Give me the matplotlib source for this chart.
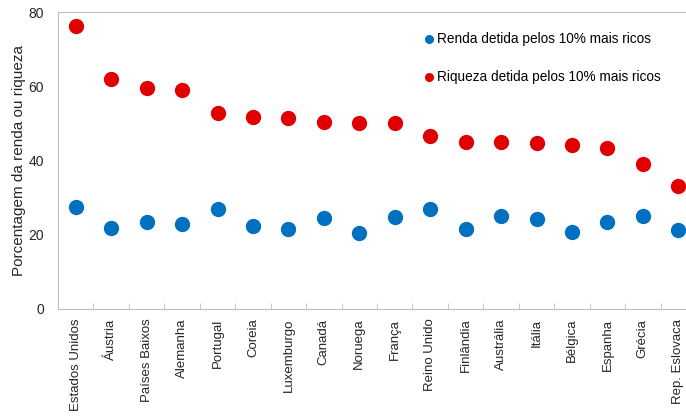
import matplotlib
matplotlib.use('Agg')
import matplotlib.pyplot as plt
import numpy as np

plt.rcParams['font.family'] = ['Liberation Sans', 'DejaVu Sans']

# ==========================================
# DATA
# ==========================================
countries = ['Estados Unidos', 'Áustria', 'Países Baixos', 'Alemanha', 'Portugal',
             'Coreia', 'Luxemburgo', 'Canadá', 'Noruega', 'França', 'Reino Unido',
             'Finlândia', 'Austrália', 'Itália', 'Bélgica', 'Espanha', 'Grécia',
             'Rep. Eslovaca']
renda = [27.6, 21.7, 23.3, 22.9, 26.9, 22.4, 21.5, 24.4, 20.4, 24.9, 27.0,
         21.5, 25.1, 24.2, 20.8, 23.5, 25.1, 21.3]
riqueza = [76.3, 61.9, 59.6, 59.0, 52.9, 51.6, 51.4, 50.3, 50.0, 50.0, 46.6,
           45.1, 45.1, 44.6, 44.2, 43.5, 39.0, 33.1]

label_renda = 'Renda detida pelos 10% mais ricos'
label_riqueza = 'Riqueza detida pelos 10% mais ricos'

BLUE = '#0070C0'
RED = '#E00000'
GREY = '#BFBFBF'
TXT = '#262626'

# ==========================================
# FIGURE
# ==========================================
fig = plt.figure(figsize=(6.86, 4.16), dpi=100)
# axes runs past the right edge (the original chart is cropped there)
ax = fig.add_axes([58 / 686, 107 / 416, 638 / 686, 297 / 416])

x = np.arange(len(countries))
ax.plot(x, renda, 'o', color=BLUE, markersize=10, label=label_renda)
ax.plot(x, riqueza, 'o', color=RED, markersize=10, label=label_riqueza)

ax.set_xlim(-0.5, len(countries) - 0.5)
ax.set_ylim(0, 80)
ax.set_yticks([0, 20, 40, 60, 80])

ax.set_xticks(x)
ax.set_xticklabels(countries, rotation=90, fontsize=9.5, color=TXT)
ax.set_xticks(np.arange(0.5, len(countries) - 0.5), minor=True)
ax.tick_params(axis='x', which='major', length=0, pad=7)
ax.tick_params(axis='x', which='minor', length=4, direction='in', color=GREY)
ax.tick_params(axis='y', length=0, pad=10, labelsize=10, labelcolor=TXT)

ax.set_ylabel('Porcentagem da renda ou riqueza', fontsize=11, color=TXT, labelpad=2)

for side in ['left', 'bottom', 'top']:
    ax.spines[side].set_color(GREY)
ax.spines['right'].set_visible(False)

ax.legend(loc='upper left', bbox_to_anchor=(417 / 686, 1 - 27 / 416),
          bbox_transform=fig.transFigure, frameon=False, fontsize=9.8,
          markerscale=0.55, handletextpad=0.05, handlelength=1.0,
          labelspacing=1.75, borderaxespad=0)

plt.savefig('out.png', dpi=100)
plt.close()
